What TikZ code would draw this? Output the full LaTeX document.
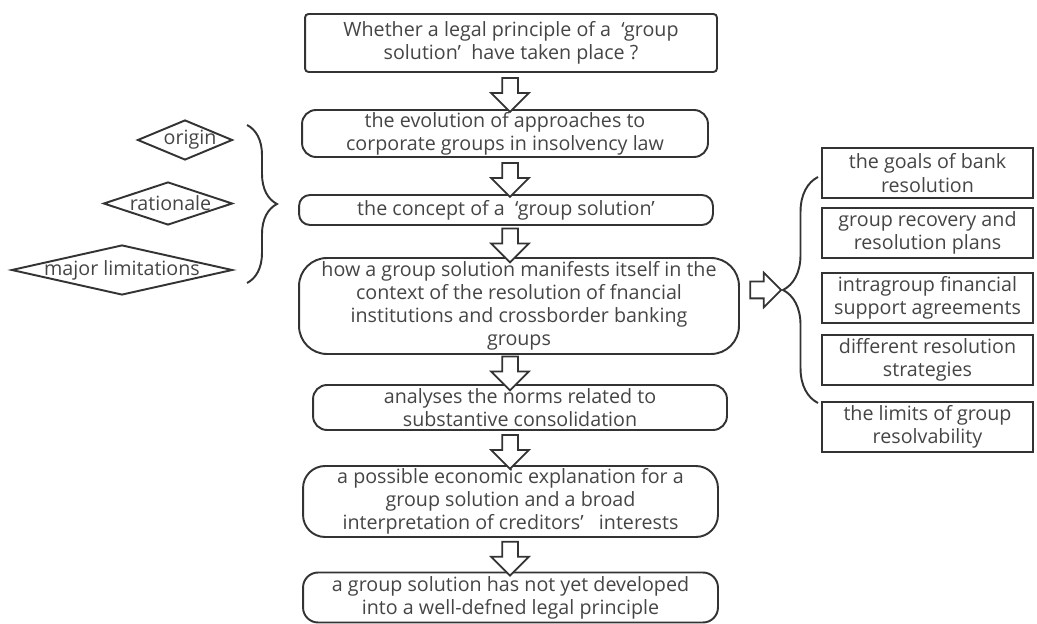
\documentclass[tikz,border=0pt]{standalone}
\usepackage{fontspec}
\setmainfont{Open Sans}
\usetikzlibrary{positioning, calc, shapes.geometric, shapes.arrows, decorations.pathreplacing}
\definecolor{ink}{HTML}{333333}
\definecolor{txt}{HTML}{454545}

\begin{document}
\begin{tikzpicture}[
        x=0.02cm, y=-0.02cm,
        font=\fontsize{11.2}{13.2}\selectfont,
        text=txt,
        box/.style={draw=ink, line width=1.1pt, rounded corners=2pt, align=center, inner sep=0pt},
        term/.style={draw=ink, line width=1.1pt, rounded corners=#1, align=center, inner sep=0pt},
        side/.style={draw=ink, line width=1.3pt, align=center, inner sep=0pt, minimum width=4.22cm, minimum height=1cm},
        dia/.style={diamond, draw=ink, line width=1.1pt, inner sep=0pt},
        down/.style={single arrow, draw=ink, fill=white, line width=1pt, inner xsep=0pt, inner ysep=0.14cm,
            single arrow head extend=0.22cm, single arrow head indent=0pt, minimum height=0.68cm, sloped, anchor=center},
        fwd/.style={single arrow, draw=ink, fill=white, line width=1pt, inner xsep=0pt, inner ysep=0.15cm,
            single arrow head extend=0.18cm, single arrow head indent=0pt, minimum height=0.62cm, sloped, anchor=center},
        brc/.style={draw=ink, line width=1.1pt, decorate, decoration={brace, amplitude=#1}}
    ]
        \useasboundingbox (0,0) rectangle (1037,624);

        \node[box, minimum width=8.24cm, minimum height=1.16cm] (ques) at (511,43)
            {Whether a legal principle of a\ \ ‘group\\solution’\ \ have taken place ?};
        \node[term=0.28cm, minimum width=8.12cm, minimum height=0.94cm] (evol) at (505,133.5)
            {the evolution of approaches to\\corporate groups in insolvency law};
        \node[term=0.22cm, minimum width=8.28cm, minimum height=0.6cm] (conc) at (506,210)
            {the concept of a\ \ ‘group solution’};
        \node[term=0.56cm, minimum width=8.8cm, minimum height=1.92cm] (bank) at (519,306)
            {how a group solution manifests itself in the\\context of the resolution of fnancial\\institutions and crossborder banking\\groups};
        \node[term=0.28cm, minimum width=8.28cm, minimum height=0.9cm] (norm) at (520,407.5)
            {analyses the norms related to\\substantive consolidation};
        \node[term=0.44cm, minimum width=8.3cm, minimum height=1.42cm] (econ) at (510.5,501.5)
            {a possible economic explanation for a\\group solution and a broad\\interpretation of creditors’\ \ \ interests};
        \node[term=0.3cm, minimum width=8.3cm, minimum height=1cm] (notyet) at (510.5,597.5)
            {a group solution has not yet developed\\into a well-defned legal principle};

        \node[dia, minimum width=1.9cm, minimum height=0.8cm] (origin) at (185,140) {\makebox[0pt]{\hspace{0.2cm}origin}};
        \node[dia, minimum width=2.58cm, minimum height=0.86cm] (ratio) at (168,203.5) {\makebox[0pt]{\hspace{0.1cm}rationale}};
        \node[dia, minimum width=4.42cm, minimum height=1cm] (limits) at (122,270) {\makebox[0pt]{major limitations}};

        \node[side] (goals) at (927.5,173) {the goals of bank\\resolution};
        \node[side] (plans) at (927.5,233) {group recovery and\\resolution plans};
        \node[side] (supp) at (927.5,298) {intragroup financial\\support agreements};
        \node[side] (strat) at (927.5,360) {different resolution\\strategies};
        \node[side] (resolv) at (927.5,427) {the limits of group\\resolvability};

        \coordinate (axis) at (510,0);
        \coordinate (ltop) at (247,125);
        \coordinate (lbot) at (247,283);
        \coordinate (rtop) at (818,177);
        \coordinate (rbot) at (818,403);
        \coordinate (rtip) at (783,290);

        \path (ques.south -| axis) -- node[down] {} (evol.north -| axis);
        \path (evol.south -| axis) -- node[down] {} (conc.north -| axis);
        \path (conc.south -| axis) -- node[down] {} (bank.north -| axis);
        \path (bank.south -| axis) -- node[down] {} (norm.north -| axis);
        \path (norm.south -| axis) -- node[down] {} (econ.north -| axis);
        \path (econ.south -| axis) -- node[down] {} (notyet.north -| axis);
        \path (bank.east |- rtip) -- node[fwd] {} (rtip);

        \draw[brc=0.6cm] (ltop) -- (lbot);
        \draw[brc=0.7cm] (rbot) -- (rtop);
    \end{tikzpicture}
\end{document}
